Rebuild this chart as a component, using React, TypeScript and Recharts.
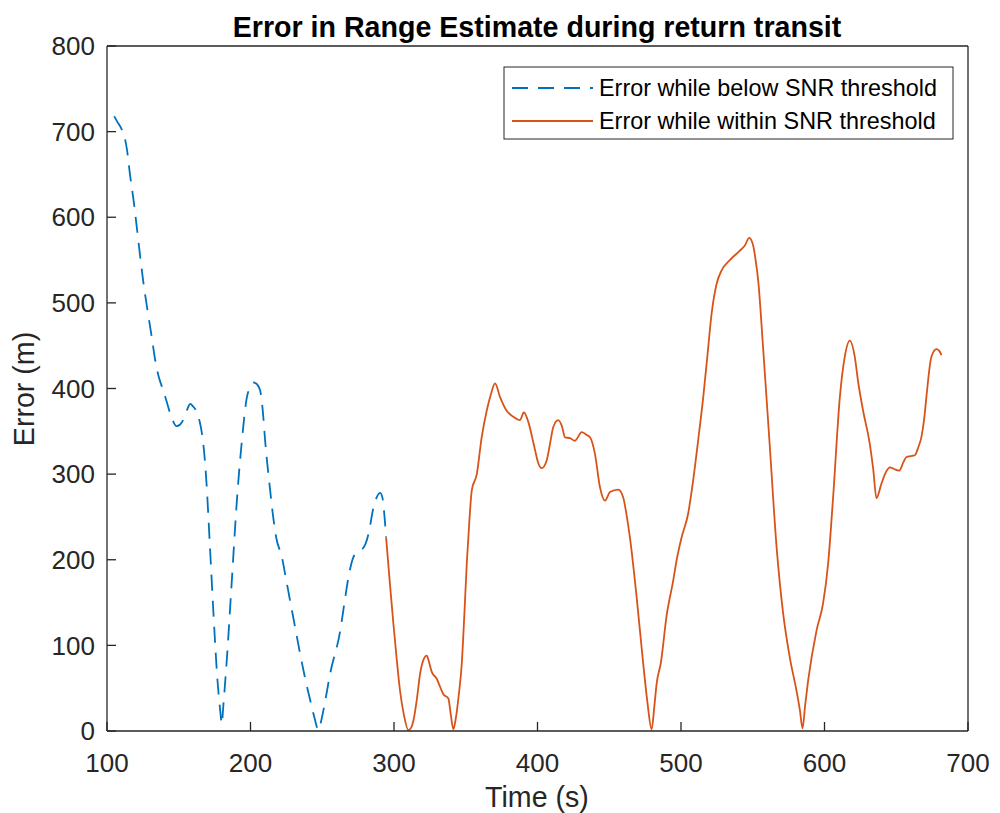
import React from 'react';
import { LineChart, Line, XAxis, YAxis, Customized } from 'recharts';

// Axis ticks
const timeTicks = [100, 200, 300, 400, 500, 600, 700];
const errorTicks = [0, 100, 200, 300, 400, 500, 600, 700, 800];

// Range error while the SNR is below threshold: [time (s), error (m)]
const belowThreshold: [number, number][] = [
  [105, 718], [107, 712], [110.4, 702], [112, 695], [114, 678], [116, 650], [118.5, 620],
  [121, 585], [123.2, 553], [125.5, 522], [127.9, 495], [131, 462], [133.6, 433], [136, 414],
  [138.3, 402], [141, 388], [144, 371], [146, 362], [148.3, 356], [151, 358], [153.3, 364],
  [156, 376], [158, 382], [160, 379], [162.7, 372], [164.5, 362], [166.2, 347], [168, 320],
  [169.2, 293], [171.5, 223], [174.2, 137], [177, 59], [179, 22], [180, 8], [181, 28],
  [183.6, 86], [187, 176], [190.5, 269], [194, 339], [197.5, 390], [200, 402], [202, 407],
  [204.5, 405], [206.7, 398], [208.5, 375], [210.2, 339], [213.7, 281], [215.8, 250],
  [217.9, 226], [221.9, 203], [224.5, 180], [227.6, 152], [231, 122], [234.6, 90], [238, 62],
  [241.6, 36], [244.5, 16], [247.4, 1], [249, 10], [251.5, 30], [255.5, 67], [262.5, 117],
  [265.5, 150], [268.3, 180], [271.7, 203], [275, 210], [278.7, 214], [282.2, 230],
  [285.7, 261], [288, 273], [290.3, 278], [292, 272], [293.3, 252], [294.5, 226],
];

// Range error while the SNR is within threshold: [time (s), error (m)]
const withinThreshold: [number, number][] = [
  [294.5, 226], [297, 175], [299.6, 125], [302, 82], [304.2, 47], [307, 18], [310, 1],
  [312, 4], [313.5, 12], [316, 38], [318.2, 67], [320.5, 83], [322.8, 88], [324.5, 80],
  [326.3, 69], [329.8, 61], [332, 52], [334.4, 43], [337.9, 38], [339.5, 20], [341.4, 2],
  [343, 14], [345, 40], [347.2, 78], [349, 135], [350.7, 195], [352.5, 245], [354.2, 281],
  [357.7, 300], [361.1, 343], [364.6, 374], [367.5, 393], [370.4, 406], [373.9, 390],
  [378.5, 374], [383.1, 367], [387.8, 363], [390.5, 372], [393.6, 361], [396, 345],
  [398.3, 328], [400.5, 313], [402.9, 307], [406.4, 316], [409, 338], [411, 355],
  [414.5, 363], [417, 356], [419.2, 343], [422.6, 342], [426.1, 339], [430.8, 349],
  [434, 346], [436.6, 343], [440, 324], [443.5, 285], [447, 269], [450.5, 279], [456.3, 282],
  [459.7, 273], [462, 253], [464.4, 226], [469.1, 156], [473.7, 78], [476.5, 35], [479.5, 2],
  [481.5, 30], [483, 55], [486, 80], [490, 135], [494.6, 176], [497, 200], [500.4, 226],
  [505, 254], [508.5, 293], [512, 340], [515.5, 390], [518.5, 440], [521.3, 487],
  [524.8, 522], [528.3, 538], [534, 550], [541, 561], [544.5, 567], [547.5, 576],
  [550.3, 567], [552, 550], [553.8, 526], [557.2, 448], [561.9, 332], [566.6, 215],
  [571.2, 137], [575.8, 86], [580.5, 47], [582.8, 25], [584.7, 3], [586.5, 30], [588.6, 59],
  [594.4, 117], [599, 149], [602.5, 195], [606, 273], [610.7, 390], [614.1, 437],
  [617.6, 456], [621.1, 437], [623.5, 407], [626.9, 374], [631.5, 336], [634, 305],
  [636.2, 272], [639.7, 289], [643, 303], [645.5, 308], [648.5, 306], [652, 304], [655, 314],
  [657.1, 320], [660, 321], [662.9, 322], [665.5, 332], [667.5, 343], [669.5, 365], [671, 390],
  [674.5, 437], [678, 446], [680, 444], [681.5, 439],
];

const seriesNames = ['Error while below SNR threshold', 'Error while within SNR threshold'];
const titleText = 'Error in Range Estimate during return transit';
const xLabel = 'Time (s)';
const yLabel = 'Error (m)';

const belowData = belowThreshold.map(([t, e]) => ({ t, e }));
const withinData = withinThreshold.map(([t, e]) => ({ t, e }));

const FONT = '"Liberation Sans", Arial, Helvetica, sans-serif';
const AXIS = '#262626';
const BLUE = '#0072BD';
const ORANGE = '#D95319';
const DASH = '16 10';

const Annotations = () => (
  <g fontFamily={FONT}>
    <text x={537} y={37} textAnchor="middle" fontSize={28.6} fontWeight="bold" fill="#000">
      {titleText}
    </text>
    <text x={537} y={807} textAnchor="middle" fontSize={28.6} fill={AXIS}>
      {xLabel}
    </text>
    <text x={34} y={389} textAnchor="middle" fontSize={28.6} fill={AXIS} transform="rotate(-90 34 389)">
      {yLabel}
    </text>
    <rect x={504} y={67} width={449} height={72} fill="#fff" stroke={AXIS} strokeWidth={1} />
    <line x1={512} y1={88} x2={593} y2={88} stroke={BLUE} strokeWidth={1.8} strokeDasharray={DASH} />
    <text x={599} y={88} dominantBaseline="central" fontSize={23.4} fill="#000">
      {seriesNames[0]}
    </text>
    <line x1={512} y1={121} x2={593} y2={121} stroke={ORANGE} strokeWidth={1.8} />
    <text x={599} y={121} dominantBaseline="central" fontSize={23.4} fill="#000">
      {seriesNames[1]}
    </text>
  </g>
);

export default function App() {
  const tickStyle = { fill: AXIS, fontSize: 26, fontFamily: FONT };
  return (
    <div style={{ position: 'absolute', left: 0, top: 0, width: 1000, height: 813, background: '#fff' }}>
      <LineChart width={1000} height={813} margin={{ top: 45, right: 31, bottom: 81, left: 106 }}>
        <XAxis
          xAxisId="bottom"
          type="number"
          dataKey="t"
          domain={[100, 700]}
          ticks={timeTicks}
          interval={0}
          allowDataOverflow
          height={1}
          tickSize={-9}
          tickMargin={32}
          tick={tickStyle}
          stroke={AXIS}
          strokeWidth={1.3}
        />
        <XAxis
          xAxisId="top"
          orientation="top"
          type="number"
          dataKey="t"
          domain={[100, 700]}
          ticks={timeTicks}
          interval={0}
          allowDataOverflow
          height={1}
          tickSize={-9}
          tick={false}
          stroke={AXIS}
          strokeWidth={1.3}
        />
        <YAxis
          yAxisId="left"
          type="number"
          domain={[0, 800]}
          ticks={errorTicks}
          interval={0}
          allowDataOverflow
          width={1}
          tickSize={-9}
          tickMargin={21}
          tick={tickStyle}
          stroke={AXIS}
          strokeWidth={1.3}
        />
        <YAxis
          yAxisId="right"
          orientation="right"
          type="number"
          domain={[0, 800]}
          ticks={errorTicks}
          interval={0}
          allowDataOverflow
          width={1}
          tickSize={-9}
          tick={false}
          stroke={AXIS}
          strokeWidth={1.3}
        />
        <Line
          xAxisId="bottom"
          yAxisId="left"
          data={belowData}
          dataKey="e"
          type="monotone"
          stroke={BLUE}
          strokeWidth={1.8}
          strokeDasharray={DASH}
          dot={false}
          activeDot={false}
          isAnimationActive={false}
        />
        <Line
          xAxisId="bottom"
          yAxisId="left"
          data={withinData}
          dataKey="e"
          type="monotone"
          stroke={ORANGE}
          strokeWidth={1.8}
          dot={false}
          activeDot={false}
          isAnimationActive={false}
        />
        <Customized component={Annotations} />
      </LineChart>
    </div>
  );
}
